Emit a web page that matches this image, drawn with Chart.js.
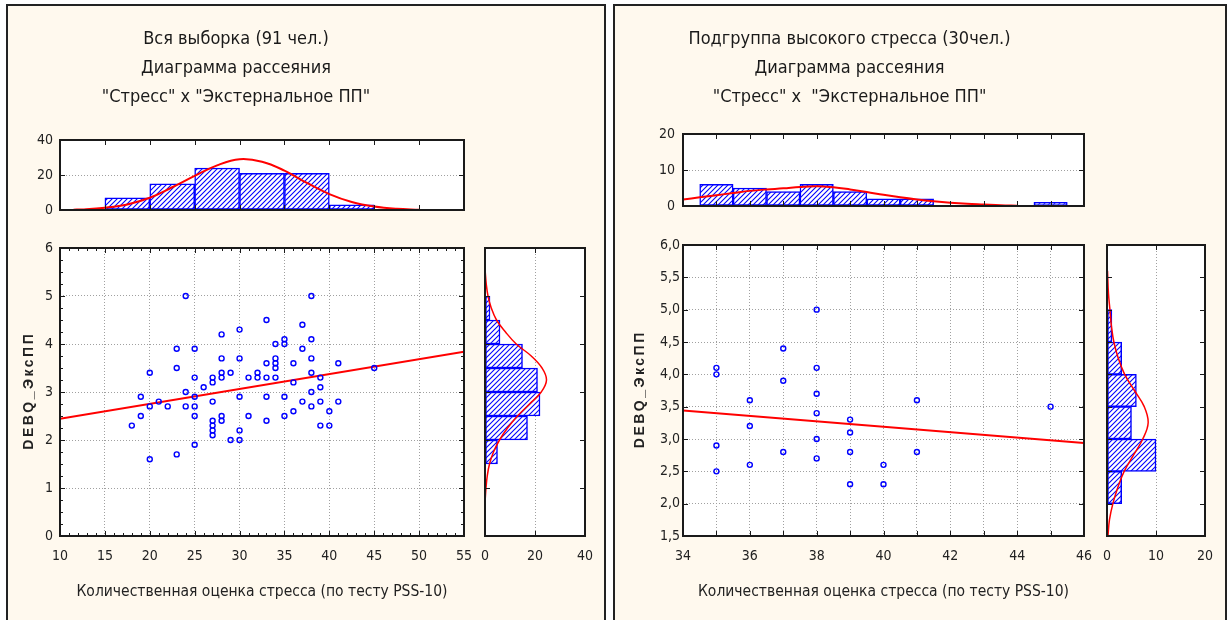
<!DOCTYPE html>
<html>
<head>
<meta charset="utf-8">
<script src="https://cdn.jsdelivr.net/npm/chart.js@4.4.0/dist/chart.umd.min.js"></script>
<style>
  html, body { margin: 0; padding: 0; width: 1231px; height: 620px; overflow: hidden; background: #fff; }
  .panel { position: absolute; top: 4px; height: 640px; background: #fff9ee; border: 2px solid #222; box-sizing: border-box; }
  canvas { position: absolute; }
</style>
</head>
<body>
<div class="panel" style="left:6px;width:600px"></div>
<div class="panel" style="left:613px;width:614px"></div>

<canvas id="allTop" width="596" height="210" style="left:8px;top:8px"></canvas>
<canvas id="allScatter" width="466" height="375" style="left:8px;top:240px"></canvas>
<canvas id="allSide" width="130" height="375" style="left:474px;top:240px"></canvas>

<canvas id="highTop" width="610" height="206" style="left:615px;top:8px"></canvas>
<canvas id="highScatter" width="479" height="379" style="left:615px;top:236px"></canvas>
<canvas id="highSide" width="119" height="379" style="left:1096px;top:236px"></canvas>

<script>
// ---------------- whole sample (91) ----------------
const allTitle = ['Вся выборка (91 чел.)', 'Диаграмма рассеяния', '"Стресс" x "Экстернальное ПП"'];
const allStress = [24, 38, 33, 30, 37, 28, 34, 35, 35, 38,
  23, 25, 37, 23, 28, 30, 38, 33, 34, 34, 34, 36, 41,
  20, 25, 27, 27, 28, 28, 29, 31, 32, 32, 33, 34, 38, 39,
  26, 36, 39, 25, 24, 19, 30, 33, 35, 38,
  21, 27, 37, 39, 41,
  20, 22, 24, 25, 38,
  19, 25, 28, 28, 31, 35, 36, 40,
  18, 27, 27, 27, 27, 33, 39, 40, 30,
  29, 30, 25, 23, 20, 45];
const allExt = [5.0, 5.0, 4.5, 4.3, 4.4, 4.2, 4.0, 4.1, 4.0, 4.1,
  3.9, 3.9, 3.9, 3.5, 3.7, 3.7, 3.7, 3.6, 3.7, 3.6, 3.5, 3.6, 3.6,
  3.4, 3.3, 3.3, 3.2, 3.4, 3.3, 3.4, 3.3, 3.4, 3.3, 3.3, 3.3, 3.4, 3.3,
  3.1, 3.2, 3.1, 2.9, 3.0, 2.9, 2.9, 2.9, 2.9, 3.0,
  2.8, 2.8, 2.8, 2.8, 2.8,
  2.7, 2.7, 2.7, 2.7, 2.7,
  2.5, 2.5, 2.5, 2.4, 2.5, 2.5, 2.6, 2.6,
  2.3, 2.4, 2.3, 2.2, 2.1, 2.4, 2.3, 2.3, 2.2,
  2.0, 2.0, 1.9, 1.7, 1.6, 3.5];
const allFitX = [10, 55];
const allFitY = [2.44, 3.84];

const allStressBins = [17.5, 22.5, 27.5, 32.5, 37.5, 42.5];
const allStressCounts = [7, 15, 24, 21, 21, 3];
const allStressCurveX = [11.5, 12.5, 15, 17.5, 20, 22.5, 25, 27.5, 30, 32.5, 35, 37.5, 40, 42.5, 45, 47.5, 50];
const allStressCurveY = [0.2, 0.3, 1.3, 3.2, 7, 13, 19.5, 25.5, 29, 27.6, 22.5, 15.5, 9.1, 4.6, 2, 0.7, 0.2];

const allExtBins = [1.75, 2.25, 2.75, 3.25, 3.75, 4.25, 4.75];
const allExtCounts = [5, 17, 22, 21, 15, 6, 2];
const allExtCurveY = [0.7, 1, 1.25, 1.5, 1.75, 2, 2.25, 2.5, 2.75, 3, 3.25, 3.5, 3.75, 4, 4.25, 4.5, 4.75, 5, 5.25, 5.5];
const allExtCurveX = [0, 0.4, 0.9, 1.8, 3.4, 5.8, 9, 13, 17.8, 22.5, 24.6, 22.8, 18.5, 12.5, 8.2, 4.6, 2.5, 1.2, 0.5, 0.1];

// ---------------- high stress subgroup (30) ----------------
const highTitle = ['Подгруппа высокого стресса (30чел.)', 'Диаграмма рассеяния', '"Стресс" x  "Экстернальное ПП"'];
const highStress = [35, 35, 35, 35, 36, 36, 36, 37, 37, 37, 38, 38, 38, 38, 38, 38, 39, 39, 39, 39, 40, 40, 41, 41, 45];
const highExt = [4.1, 4.0, 2.9, 2.5, 3.6, 3.2, 2.6, 4.4, 3.9, 2.8, 5.0, 4.1, 3.7, 3.4, 3.0, 2.7, 3.3, 3.1, 2.8, 2.3, 2.6, 2.3, 3.6, 2.8, 3.5];
const highFitX = [34, 46];
const highFitY = [3.44, 2.94];

const highStressBins = [35, 36, 37, 38, 39, 40, 41, 45];
const highStressCounts = [6, 5, 4, 6, 4, 2, 2, 1];
const highStressCurveX = [34, 34.5, 35, 35.5, 36, 36.5, 37, 37.5, 38, 38.5, 39, 39.5, 40, 40.5, 41, 41.5, 42, 42.5, 43, 43.5, 44];
const highStressCurveY = [1.8, 2.4, 3.0, 3.6, 4.2, 4.6, 4.9, 5.3, 5.5, 5.2, 4.6, 3.9, 3.1, 2.4, 1.8, 1.3, 0.9, 0.6, 0.4, 0.2, 0.1];

const highExtBins = [2.25, 2.75, 3.25, 3.75, 4.25, 4.75];
const highExtCounts = [3, 10, 5, 6, 3, 1];
const highExtCurveY = [1.5, 1.75, 2, 2.25, 2.5, 2.75, 3, 3.25, 3.5, 3.75, 4, 4.25, 4.5, 4.75, 5, 5.25, 5.6];
const highExtCurveX = [0.2, 0.5, 1.2, 2.2, 3.5, 5.4, 7.3, 8.4, 7.6, 5.6, 3.6, 2.3, 1.4, 0.9, 0.6, 0.3, 0.1];

const xTitle = 'Количественная оценка стресса (по тесту PSS-10)';
const yTitle = 'DEBQ_ЭксПП';

// ---------------- shared bits ----------------
const NARROW = "'Liberation Sans Narrow', 'DejaVu Sans Condensed', 'Liberation Sans', sans-serif";
Chart.defaults.font.family = NARROW;
Chart.defaults.font.size = 14;
Chart.defaults.color = '#222';
Chart.defaults.animation = false;

const BLUE = '#0000ff';
const RED = '#ff0000';
const grid = { color: '#a0a0a0', lineWidth: 1, drawTicks: false };
const dotted = { display: false, dash: [1, 2] };
// fixed axis sizes and no label overhang, so the plot boxes land where they should
const fixW = w => s => { s.width = w; s.paddingTop = 0; s.paddingBottom = 0; };
const fixH = h => s => { s.height = h; s.paddingLeft = 0; s.paddingRight = 0; };
const pairs = (a, b) => a.map((v, i) => ({ x: v, y: b[i] }));

function hatch() {
  const c = document.createElement('canvas');
  c.width = 5; c.height = 5;
  const g = c.getContext('2d');
  g.fillStyle = '#fff';
  g.fillRect(0, 0, 5, 5);
  g.strokeStyle = BLUE;
  g.lineWidth = 1.1;
  g.beginPath();
  g.moveTo(0, 5); g.lineTo(5, 0);
  g.moveTo(-1, 1); g.lineTo(1, -1);
  g.moveTo(4, 6); g.lineTo(6, 4);
  g.stroke();
  return g.createPattern(c, 'repeat');
}

// white plot area, box round it and little inward ticks like Statistica
const framePlugin = {
  id: 'frame',
  beforeDraw(chart) {
    const { ctx, chartArea: a } = chart;
    ctx.save();
    ctx.fillStyle = '#fff';
    ctx.fillRect(a.left, a.top, a.width, a.height);
    ctx.restore();
  },
  afterDatasetsDraw(chart, args, o) {
    const { ctx, chartArea: a, scales } = chart;
    const x = scales.x, y = scales.y;
    ctx.save();
    ctx.strokeStyle = '#1a1a1a';
    ctx.lineWidth = 1;
    ctx.beginPath();
    const mark = (s, v, len) => {
      const p = Math.round(s.getPixelForValue(v)) + 0.5;
      if (s === x) {
        ctx.moveTo(p, a.bottom); ctx.lineTo(p, a.bottom - len);
        ctx.moveTo(p, a.top); ctx.lineTo(p, a.top + len);
      } else {
        ctx.moveTo(a.left, p); ctx.lineTo(a.left + len, p);
        ctx.moveTo(a.right, p); ctx.lineTo(a.right - len, p);
      }
    };
    [x, y].forEach((s, k) => {
      s.ticks.forEach(t => mark(s, t.value, 5));
      const step = k ? o.yMinor : o.xMinor;
      if (step) for (let v = s.min + step; v < s.max - 1e-6; v += step) mark(s, v, 3);
    });
    ctx.stroke();
    ctx.lineWidth = 2;
    ctx.strokeRect(a.left, a.top, a.width, a.height);
    ctx.restore();
  }
};

// rotated, letter-spaced y title
const yTitlePlugin = {
  id: 'yTitle',
  afterDraw(chart, args, o) {
    if (!o.text) return;
    const { ctx, chartArea: a } = chart;
    ctx.save();
    ctx.translate(o.x, (a.top + a.bottom) / 2);
    ctx.rotate(-Math.PI / 2);
    ctx.font = "bold " + o.size + "px 'Liberation Sans', sans-serif";
    ctx.letterSpacing = o.spacing + 'px';
    ctx.fillStyle = '#222';
    ctx.textAlign = 'center';
    ctx.textBaseline = 'middle';
    ctx.fillText(o.text, o.spacing / 2, 0);
    ctx.restore();
  }
};

function topHist(id, title, bins, counts, cx, cy, xMin, xMax, xStep, yMax, yStep, yW, yPad, padR, titleBottom) {
  new Chart(document.getElementById(id), {
    type: 'bar',
    data: {
      datasets: [
        { type: 'line', data: pairs(cx, cy), borderColor: RED, borderWidth: 2, pointRadius: 0, tension: 0.4 },
        { data: pairs(bins, counts), backgroundColor: hatch(), borderColor: BLUE, borderWidth: 1.5,
          borderSkipped: false, barPercentage: 1, categoryPercentage: 1 }
      ]
    },
    options: {
      responsive: false,
      layout: { padding: { right: padR, bottom: 8 } },
      plugins: {
        legend: { display: false },
        tooltip: { enabled: false },
        title: { display: true, text: title, color: '#1a1a1a',
          font: { size: 18, weight: 'normal', lineHeight: 1.6 },
          padding: { top: 17, bottom: titleBottom } },
        frame: {}
      },
      scales: {
        x: { type: 'linear', min: xMin, max: xMax, offset: false,
          ticks: { display: false, stepSize: xStep }, grid: { display: false, offset: false },
          border: { display: false }, afterFit: fixH(0) },
        y: { min: 0, max: yMax, ticks: { stepSize: yStep, padding: yPad }, grid: grid, border: dotted,
          afterFit: fixW(yW) }
      }
    },
    plugins: [framePlugin]
  });
}

function sideHist(id, bins, counts, cy, cx, yMin, yMax, yStep, xMax, xStep, pad) {
  new Chart(document.getElementById(id), {
    type: 'bar',
    data: {
      datasets: [
        { type: 'line', data: pairs(cx, cy), borderColor: RED, borderWidth: 1.5, pointRadius: 0, tension: 0.4 },
        { data: pairs(counts, bins), backgroundColor: hatch(), borderColor: BLUE, borderWidth: 1.5,
          borderSkipped: false, barPercentage: 1, categoryPercentage: 1 }
      ]
    },
    options: {
      responsive: false,
      indexAxis: 'y',
      layout: { padding: pad },
      plugins: { legend: { display: false }, tooltip: { enabled: false }, frame: {} },
      scales: {
        x: { type: 'linear', min: 0, max: xMax, ticks: { stepSize: xStep, padding: 12 }, grid: grid,
          border: dotted, afterFit: fixH(79) },
        y: { type: 'linear', min: yMin, max: yMax, offset: false,
          ticks: { display: false, stepSize: yStep }, grid: { display: false, offset: false },
          border: { display: false }, afterFit: fixW(0) }
      }
    },
    plugins: [framePlugin]
  });
}

function scatter(id, xs, ys, fx, fy, xMin, xMax, xStep, xMinor, xLabel, yMin, yMax, yStep, yMinor, yLabel,
                 yW, yPad, padTop, titleX) {
  new Chart(document.getElementById(id), {
    type: 'scatter',
    data: {
      datasets: [
        { data: pairs(xs, ys), pointStyle: 'circle', pointRadius: 2.5, borderColor: BLUE, borderWidth: 1.4,
          backgroundColor: 'rgba(0,0,0,0)' },
        { data: pairs(fx, fy), showLine: true, borderColor: RED, borderWidth: 2, pointRadius: 0 }
      ]
    },
    options: {
      responsive: false,
      layout: { padding: { top: padTop, right: 10 } },
      plugins: {
        legend: { display: false },
        tooltip: { enabled: false },
        frame: { xMinor: xMinor, yMinor: yMinor },
        yTitle: { text: yTitle, x: titleX, size: 14, spacing: 2.5 }
      },
      scales: {
        x: { type: 'linear', min: xMin, max: xMax,
          ticks: { stepSize: xStep, padding: 12, autoSkip: false, maxRotation: 0, callback: xLabel },
          grid: grid, border: dotted,
          title: { display: true, text: xTitle, font: { size: 15.5 }, color: '#222', padding: { top: 0, bottom: 14 } },
          afterFit: fixH(79) },
        y: { min: yMin, max: yMax, ticks: { stepSize: yStep, padding: yPad, callback: yLabel },
          grid: grid, border: dotted, afterFit: fixW(yW) }
      }
    },
    plugins: [framePlugin, yTitlePlugin]
  });
}

const plain = v => v;
const evenOnly = v => (v % 2 === 0 ? v : '');
const comma = v => v.toFixed(1).replace('.', ',');

topHist('allTop', allTitle, allStressBins, allStressCounts, allStressCurveX, allStressCurveY,
  10, 55, 5, 40, 20, 52, 7, 140, 28.6);
scatter('allScatter', allStress, allExt, allFitX, allFitY, 10, 55, 5, 1, plain, 0, 6, 1, 0.25, plain,
  52, 7, 8, 21);
sideHist('allSide', allExtBins, allExtCounts, allExtCurveY, allExtCurveX, 0, 6, 1, 40, 20,
  { top: 8, left: 11, right: 19 });

topHist('highTop', highTitle, highStressBins, highStressCounts, highStressCurveX, highStressCurveY,
  34, 46, 1, 20, 10, 68, 8, 141, 22.6);
scatter('highScatter', highStress, highExt, highFitX, highFitY, 34, 46, 1, 0, evenOnly, 1.5, 6, 0.5, 0, comma,
  68, 3, 9, 25);
sideHist('highSide', highExtBins, highExtCounts, highExtCurveY, highExtCurveX, 1.5, 6, 0.5, 20, 10,
  { top: 9, left: 11, right: 10 });
</script>
</body>
</html>
